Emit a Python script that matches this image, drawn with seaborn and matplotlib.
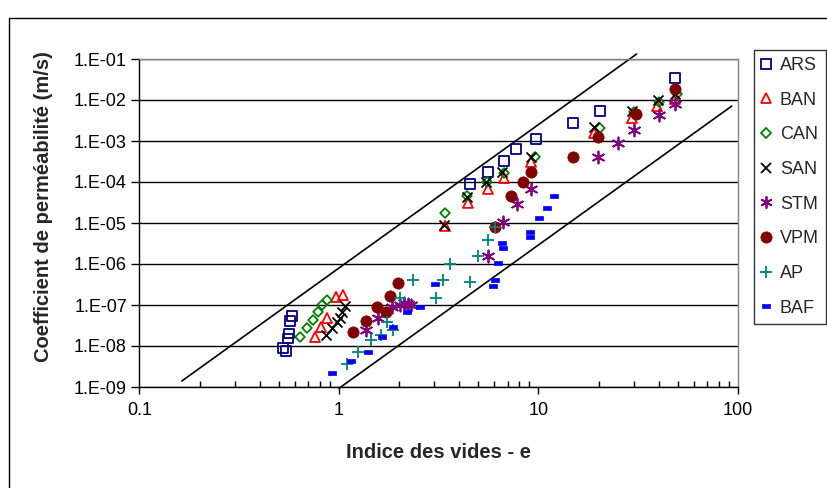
import numpy as np
import pandas as pd
import seaborn as sns
import matplotlib.pyplot as plt
from matplotlib.lines import Line2D
from matplotlib.patches import Rectangle
from matplotlib.ticker import FixedLocator, LogLocator, NullLocator, NullFormatter

# ---- data (void ratio e, permeability k in m/s) ----
ars_e = [0.524, 0.542, 0.555, 0.562, 0.568, 0.581, 4.54, 5.58, 6.72, 7.71, 9.72, 14.9, 20.3, 48.3]
ars_k = [8.9e-9, 7.6e-9, 1.5e-8, 2.0e-8, 4.1e-8, 5.4e-8, 8.9e-5, 1.75e-4, 3.25e-4, 6.4e-4, 1.12e-3, 2.75e-3, 5.4e-3, 3.44e-2]

ban_e = [0.758, 0.812, 0.871, 0.966, 1.047, 3.40, 4.43, 5.58, 6.72, 9.17, 19.0, 29.4, 39.3, 48.3]
ban_k = [1.66e-8, 2.9e-8, 4.8e-8, 1.57e-7, 1.75e-7, 8.5e-6, 3.1e-5, 6.8e-5, 1.25e-4, 3.1e-4, 1.57e-3, 3.64e-3, 7.1e-3, 1.06e-2]

can_e = [0.638, 0.691, 0.741, 0.785, 0.822, 0.871, 3.40, 4.38, 5.52, 6.72, 9.61, 20.3, 30.1, 40.2, 49.5]
can_k = [1.66e-8, 2.75e-8, 4.3e-8, 6.8e-8, 1.0e-7, 1.32e-7, 1.75e-5, 4.6e-5, 1.0e-4, 1.66e-4, 4.1e-4, 2.07e-3, 5.1e-3, 8.9e-3, 1.4e-2]

san_e = [0.861, 0.922, 0.977, 1.01, 1.035, 1.072, 3.36, 4.38, 5.46, 6.56, 9.17, 19.0, 29.4, 39.7, 48.3]
san_k = [1.85e-8, 2.75e-8, 3.85e-8, 4.8e-8, 6.8e-8, 9.5e-8, 8.9e-6, 4.3e-5, 1.0e-4, 1.75e-4, 4.1e-4, 2.19e-3, 5.4e-3, 1.0e-2, 1.4e-2]

stm_e = [1.366, 1.569, 1.844, 2.02, 2.12, 2.22, 2.30, 5.58, 6.64, 7.80, 9.17, 19.9, 25.0, 30.1, 40.2, 48.3]
stm_k = [2.46e-8, 4.8e-8, 8.9e-8, 1.0e-7, 1.12e-7, 1.06e-7, 1.0e-7, 1.57e-6, 1.06e-5, 2.9e-5, 6.8e-5, 4.1e-4, 8.9e-4, 1.85e-3, 4.3e-3, 8.0e-3]

vpm_e = [1.175, 1.366, 1.55, 1.72, 1.80, 1.976, 6.05, 7.28, 8.36, 9.17, 14.9, 19.9, 30.8, 48.3]
vpm_k = [2.19e-8, 4.1e-8, 8.9e-8, 6.8e-8, 1.66e-7, 3.44e-7, 8.0e-6, 4.6e-5, 1.0e-4, 1.75e-4, 4.1e-4, 1.25e-3, 4.6e-3, 1.85e-2]

ap_e = [1.097, 1.245, 1.447, 1.623, 1.741, 1.865, 2.02, 2.35, 3.06, 3.32, 3.60, 4.54, 4.97, 5.58, 6.05]
ap_k = [3.64e-9, 7.1e-9, 1.4e-8, 1.85e-8, 3.85e-8, 2.46e-8, 1.48e-7, 4.1e-7, 1.48e-7, 4.1e-7, 1.0e-6, 3.64e-7, 1.57e-6, 3.85e-6, 8.0e-6]

baf_e = [0.922, 1.149, 1.398, 1.642, 1.865, 2.19, 2.55, 3.03, 5.91, 6.05, 6.27, 6.56, 6.64, 9.07, 9.07, 10.06, 11.03, 11.96]
baf_k = [2.19e-9, 4.3e-9, 7.1e-9, 1.66e-8, 2.9e-8, 6.8e-8, 8.9e-8, 3.25e-7, 2.9e-7, 4.1e-7, 1.06e-6, 3.25e-6, 2.46e-6, 6.0e-6, 4.56e-6, 1.32e-5, 2.32e-5, 4.56e-5]

# envelope lines (end points)
upper_e = [0.163, 31.0]
upper_k = [1.4e-9, 0.132]
lower_e = [1.0, 93.0]
lower_k = [9.3e-10, 7.1e-3]

x_ticks = [0.1, 1, 10, 100]
x_tick_labels = ['0.1', '1', '10', '100']
y_ticks = [1e-1, 1e-2, 1e-3, 1e-4, 1e-5, 1e-6, 1e-7, 1e-8, 1e-9]
y_tick_labels = ['1.E-01', '1.E-02', '1.E-03', '1.E-04', '1.E-05', '1.E-06', '1.E-07', '1.E-08', '1.E-09']

names = ['ARS', 'BAN', 'CAN', 'SAN', 'STM', 'VPM', 'AP', 'BAF']
all_e = [ars_e, ban_e, can_e, san_e, stm_e, vpm_e, ap_e, baf_e]
all_k = [ars_k, ban_k, can_k, san_k, stm_k, vpm_k, ap_k, baf_k]

df = pd.concat([pd.DataFrame({'e': e, 'k': k, 'serie': n}) for n, e, k in zip(names, all_e, all_k)],
               ignore_index=True)

dash = [(-1, -0.55), (1, -0.55), (1, 0.55), (-1, 0.55), (-1, -0.55)]
# marker, size (pt^2), colour, open?
styles = {
    'ARS': ('s', 45, '#000080', True),
    'BAN': ('^', 52, '#FF0000', True),
    'CAN': ('D', 24, '#008000', True),
    'SAN': ('x', 52, '#000000', False),
    'STM': ((6, 2, 0), 75, '#800080', False),
    'VPM': ('o', 66, '#800000', False),
    'AP':  ('+', 75, '#008080', False),
    'BAF': (dash, 40, '#0000FF', False),
}

sns.set_style('white')
plt.rcParams['font.family'] = ['Liberation Sans', 'DejaVu Sans']

fig = plt.figure(figsize=(8.28, 4.88), dpi=100)
ax = fig.add_axes([139.5 / 828, 1 - 387 / 488, (738 - 139.5) / 828, (387 - 59) / 488])

sns.lineplot(x=upper_e, y=upper_k, color='black', linewidth=1.2, ax=ax, clip_on=False, zorder=2)
sns.lineplot(x=lower_e, y=lower_k, color='black', linewidth=1.2, ax=ax, clip_on=False, zorder=2)

handles = []
for n in names:
    m, s, c, hollow = styles[n]
    sub = df[df.serie == n]
    if hollow:
        sns.scatterplot(data=sub, x='e', y='k', marker=m, s=s, facecolor='none', edgecolor=c,
                        linewidth=1.3, ax=ax, zorder=3, legend=False)
        handles.append(Line2D([], [], ls='none', marker=m, ms=np.sqrt(s), mfc='none', mec=c, mew=1.3, label=n))
    elif n in ('VPM', 'BAF'):
        sns.scatterplot(data=sub, x='e', y='k', marker=m, s=s, color=c, edgecolor=c,
                        linewidth=0.5, ax=ax, zorder=3, legend=False)
        handles.append(Line2D([], [], ls='none', marker=m, ms=np.sqrt(s), mfc=c, mec=c, mew=0.5, label=n))
    else:
        sns.scatterplot(data=sub, x='e', y='k', marker=m, s=s, color=c,
                        linewidth=1.3, ax=ax, zorder=3, legend=False)
        handles.append(Line2D([], [], ls='none', marker=m, ms=np.sqrt(s), color=c, mew=1.3, label=n))

ax.set_xscale('log')
ax.set_yscale('log')
ax.set_xlim(0.1, 100)
ax.set_ylim(1e-9, 1e-1)

ax.xaxis.set_major_locator(FixedLocator(x_ticks))
ax.set_xticklabels(x_tick_labels)
ax.xaxis.set_minor_locator(LogLocator(base=10, subs=np.arange(2, 10)))
ax.xaxis.set_minor_formatter(NullFormatter())
ax.yaxis.set_major_locator(FixedLocator(y_ticks))
ax.set_yticklabels(y_tick_labels)
ax.yaxis.set_minor_locator(NullLocator())

ax.yaxis.grid(True, color='black', linewidth=1)
ax.xaxis.grid(False)
ax.set_axisbelow(True)

for side in ['top', 'right']:
    ax.spines[side].set_color('#808080')
    ax.spines[side].set_linewidth(1)
for side in ['left', 'bottom']:
    ax.spines[side].set_color('black')
    ax.spines[side].set_linewidth(1)

ax.tick_params(axis='y', which='major', direction='out', length=6, width=1, labelsize=13, pad=3,
               left=True, colors='black')
ax.tick_params(axis='x', which='major', direction='out', length=5, width=1, labelsize=13, pad=6,
               bottom=True, colors='black')
ax.tick_params(axis='x', which='minor', direction='in', length=4, width=1, bottom=True, colors='black')
ax.set_xlabel('')
ax.set_ylabel('')

fig.text(439 / 828, 1 - 453 / 488, 'Indice des vides - e', fontsize=14.5, fontweight='bold',
         ha='center', va='center')
fig.text(44 / 828, 1 - 207 / 488, 'Coefficient de perméabilité (m/s)', fontsize=14.5,
         fontweight='bold', rotation=90, ha='center', va='center')

leg = fig.legend(handles=handles, loc='upper left', bbox_to_anchor=(754 / 828, 1 - 50 / 488),
                 bbox_transform=fig.transFigure, borderaxespad=0, frameon=True, fancybox=False,
                 fontsize=13, labelspacing=0.98, handlelength=0.6, handletextpad=0.45, borderpad=0.38)
leg.get_frame().set_edgecolor('black')
leg.get_frame().set_linewidth(1)

# outer chart frame
fig.patches.append(Rectangle((8.5 / 828, -0.05), 1.0, 1.05 - 18 / 488, transform=fig.transFigure,
                             fill=False, edgecolor='black', linewidth=1))

fig.savefig('out.png', dpi=100, facecolor='white')
